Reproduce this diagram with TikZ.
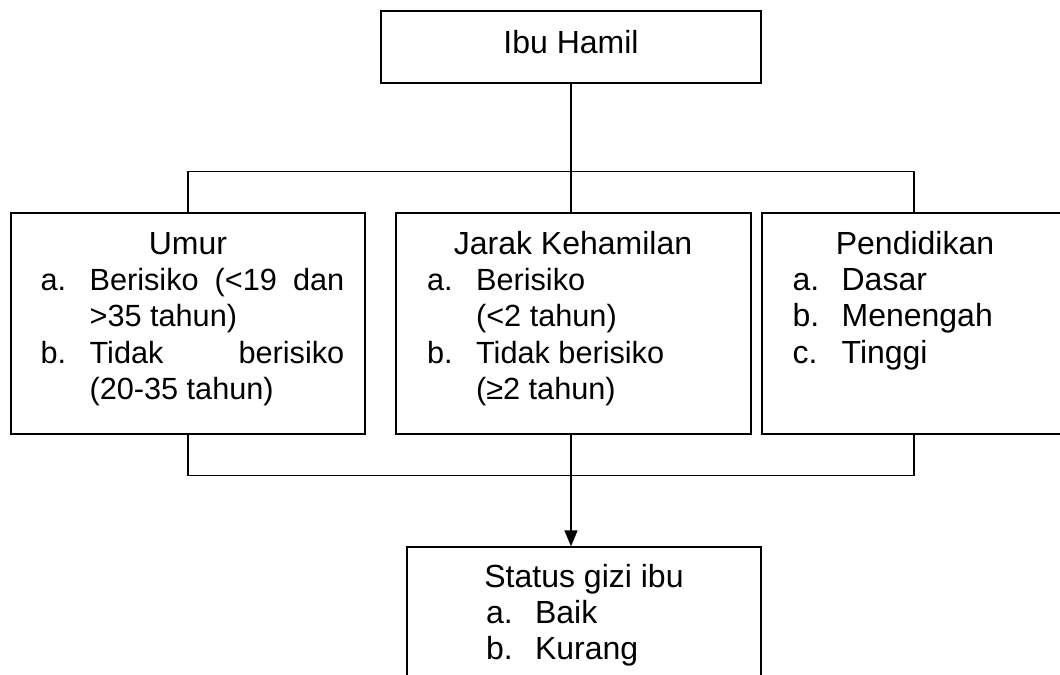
\documentclass[tikz,border=0pt]{standalone}
\usepackage{fontspec}
\setmainfont{Liberation Sans}
\usetikzlibrary{fit,arrows.meta}
\newcommand{\butir}[2]{\makebox[18.4pt][l]{#1}#2}
\newcommand{\lanjut}[1]{\hspace*{18.4pt}#1}

\begin{document}
\begin{tikzpicture}[x=0.375pt,y=-0.375pt,
  kotak/.style={draw,line width=0.5pt,inner sep=0pt},
  judul/.style={anchor=base,inner sep=0pt,font=\fontsize{12}{13.7}\selectfont},
  isi/.style={anchor=base west,inner sep=0pt,font=\fontsize{11.5}{13.7}\selectfont},
  isibesar/.style={isi,font=\fontsize{12}{13.7}\selectfont},
  garis/.style={line width=0.5pt},
  panah/.style={line width=0.8pt,-{Triangle[length=6pt,width=4.8pt]}}]
\useasboundingbox (0,0) rectangle (1060,674);
\clip (0,0) rectangle (1060,674);
\node[kotak,fit={(381,11) (761,83)}] (ibu) {};
\node[kotak,fit={(11,213) (365,434)}] (umur) {};
\node[kotak,fit={(396,213) (751,434)}] (jarak) {};
\node[kotak,fit={(762,213) (1066,434)}] (pend) {};
\node[kotak,fit={(407,547) (761,700)}] (status) {};

\node[judul] (ibutxt) at (571,53) {Ibu Hamil};
\node[judul] (umurtxt) at (188,254) {Umur};
\node[judul] (jaraktxt) at (573,254) {Jarak Kehamilan};
\node[judul] (pendtxt) at (915,254) {Pendidikan};
\node[judul] (statustxt) at (584,587) {Status gizi ibu};

\node[isi] (umurisi) at (40,290) {\parbox[t]{115pt}{\butir{a.}{\makebox[95.5pt][s]{Berisiko (<19 dan}}\\
  \lanjut{>35 tahun)}\\ \butir{b.}{\makebox[95.5pt][s]{Tidak berisiko}}\\ \lanjut{(20-35 tahun)}}};
\node[isi] (jarakisi) at (426.5,290) {\parbox[t]{115pt}{\butir{a.}{Berisiko}\\
  \lanjut{(<2 tahun)}\\ \butir{b.}{Tidak berisiko}\\ \lanjut{(≥2 tahun)}}};
\node[isibesar] (pendisi) at (792,290) {\parbox[t]{100pt}{\butir{a.}{Dasar}\\
  \butir{b.}{Menengah}\\ \butir{c.}{Tinggi}}};
\node[isibesar] (statusisi) at (485.5,623) {\parbox[t]{100pt}{\butir{a.}{Baik}\\
  \butir{b.}{Kurang}}};

\draw[garis] (ibu.south) -- (ibu.south |- jarak.north);
\draw[garis] (umur.north) -- ++(0,-41) -| (pend.north);
\draw[garis] (umur.south) -- ++(0,41) -| (pend.south);
\draw[panah] (ibu.south |- jarak.south) -- (ibu.south |- status.north);
\end{tikzpicture}
\end{document}
